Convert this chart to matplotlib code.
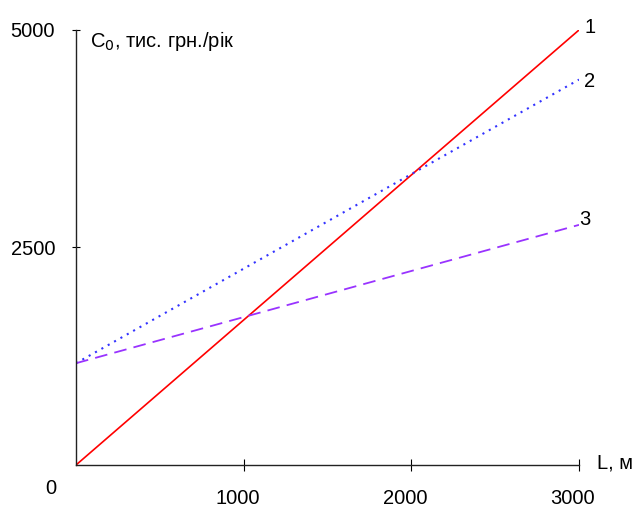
import numpy as np
import matplotlib.pyplot as plt
from matplotlib.transforms import ScaledTranslation

plt.rcParams['font.family'] = ['Liberation Sans', 'DejaVu Sans']

# data
L = [0, 3000]
c1 = [0, 5000]        # line 1
c2 = [1170, 4430]     # line 2
c3 = [1170, 2760]     # line 3
xticks = [1000, 2000, 3000]
yticks = [2500, 5000]

fs = 14.5

fig = plt.figure(figsize=(6.35, 5.08), dpi=100)
ax = fig.add_axes([76/635, 43/508, 503/635, 435/508])

ax.plot(L, c1, color='#ff0000', lw=1.2)
ax.plot(L, c2, color='#3333ff', lw=1.5, ls=(0, (1, 2.5)))
ax.plot(L, c3, color='#9933ff', lw=1.3, ls=(0, (7, 4)))

ax.set_xlim(0, 3000)
ax.set_ylim(0, 5000)
for s in ['top', 'right']:
    ax.spines[s].set_visible(False)
for s in ['left', 'bottom']:
    ax.spines[s].set_linewidth(1.0)
    ax.spines[s].set_color('#222222')

ax.set_xticks(xticks)
ax.set_xticklabels([str(t) for t in xticks])
ax.set_yticks(yticks)
ax.set_yticklabels([str(t) for t in yticks])
ax.tick_params(axis='x', direction='inout', length=8, pad=13, labelsize=fs)
ax.tick_params(axis='y', direction='inout', length=6, pad=12, labelsize=fs)
shift = ScaledTranslation(-6/100, 0, fig.dpi_scale_trans)
for lab in ax.get_xticklabels():
    lab.set_transform(lab.get_transform() + shift)

ax.text(-0.05, -0.055, '0', transform=ax.transAxes, fontsize=fs,
        ha='center', va='center')
ax.text(0.028, 0.975, 'C$_0$, тис. грн./рік', transform=ax.transAxes,
        fontsize=fs, ha='left', va='center')
ax.text(1.036, 0.005, 'L, м', transform=ax.transAxes, fontsize=fs,
        ha='left', va='center')

ax.text(3030, c1[1] + 30, '1', fontsize=fs, ha='left', va='center')
ax.text(3030, c2[1] - 20, '2', fontsize=fs, ha='left', va='center')
ax.text(3000, c3[1] + 60, '3', fontsize=fs, ha='left', va='center')

fig.savefig('out.png', dpi=100)
